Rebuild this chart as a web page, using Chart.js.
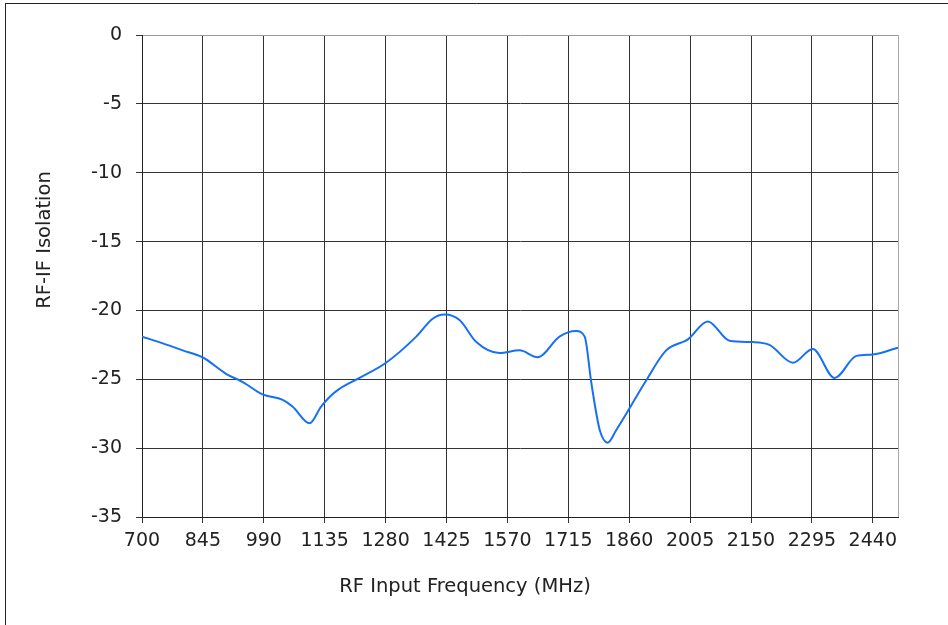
<!DOCTYPE html>
<html>
<head>
<meta charset="utf-8">
<script src="https://cdn.jsdelivr.net/npm/chart.js@4.4.0/dist/chart.umd.min.js"></script>
<style>
    html, body { margin: 0; padding: 0; background: #fff; }
    #wrap { position: absolute; left: 0; top: 0; width: 948px; height: 625px; }
</style>
</head>
<body>
<div id="wrap"><canvas id="isolationChart"></canvas></div>
<script>
const freqMHz = [700, 741, 797, 844, 900, 940, 987, 1035, 1059, 1099, 1126, 1146, 1170, 1218, 1281,
    1353, 1392, 1420, 1456, 1496, 1551, 1599, 1642, 1694, 1734, 1754, 1770, 1790, 1809, 1829, 1853,
    1900, 1948, 2000, 2047, 2099, 2154, 2194, 2250, 2297, 2349, 2401, 2440, 2500];
const isolationDb = [-21.9, -22.3, -22.9, -23.4, -24.6, -25.2, -26.1, -26.5, -27.0, -28.2, -27.0, -26.3, -25.7, -24.9, -23.8,
    -21.9, -20.6, -20.3, -20.7, -22.3, -23.1, -22.9, -23.4, -21.9, -21.5, -21.9, -25.3, -28.7, -29.6, -28.7, -27.5,
    -25.1, -22.9, -22.1, -20.8, -22.2, -22.3, -22.5, -23.8, -22.8, -24.9, -23.3, -23.2, -22.7];
const xTicks = [700, 845, 990, 1135, 1280, 1425, 1570, 1715, 1860, 2005, 2150, 2295, 2440];
const yTicks = [0, -5, -10, -15, -20, -25, -30, -35];

const fontFamily = 'Verdana, "DejaVu Sans", sans-serif';

// axis titles and the frame lines
const decorations = {
    id: 'decorations',
    afterDraw(chart) {
        const ctx = chart.ctx;
        ctx.save();
        ctx.strokeStyle = '#222';
        ctx.lineWidth = 1;
        ctx.beginPath();
        ctx.moveTo(5, 3.5);
        ctx.lineTo(948, 3.5);
        ctx.moveTo(5.5, 3);
        ctx.lineTo(5.5, 625);
        ctx.stroke();

        ctx.fillStyle = '#222';
        ctx.font = '19.5px ' + fontFamily;
        ctx.textAlign = 'center';
        ctx.textBaseline = 'middle';
        ctx.fillText('RF Input Frequency (MHz)', 465, 587);
        ctx.translate(44.5, 240);
        ctx.rotate(-Math.PI / 2);
        ctx.fillText('RF-IF Isolation', 0, 0);
        ctx.restore();
    }
};

document.addEventListener('DOMContentLoaded', () => {
    const ctx = document.getElementById('isolationChart').getContext('2d');
    new Chart(ctx, {
        type: 'line',
        data: {
            datasets: [{
                data: freqMHz.map((f, i) => ({ x: f, y: isolationDb[i] })),
                borderColor: '#1670f5',
                borderWidth: 2,
                pointRadius: 0,
                fill: false,
                cubicInterpolationMode: 'monotone'
            }]
        },
        options: {
            responsive: true,
            maintainAspectRatio: false,
            animation: false,
            layout: { padding: { left: 0, top: 35, right: 50, bottom: 0 } },
            plugins: {
                legend: { display: false },
                tooltip: { enabled: false }
            },
            scales: {
                x: {
                    type: 'linear',
                    min: 700,
                    max: 2500,
                    afterBuildTicks: axis => {
                        axis.ticks = xTicks.concat([2500]).map(v => ({ value: v }));
                    },
                    afterFit: axis => { axis.height = 108; },
                    ticks: {
                        autoSkip: false,
                        maxRotation: 0,
                        padding: 7,
                        color: '#222',
                        font: { family: fontFamily, size: 19 },
                        callback: v => (xTicks.includes(v) ? String(v) : '')
                    },
                    grid: {
                        color: c => (c.tick && c.tick.value === 2500 ? '#aaa' : '#333'),
                        tickColor: c => (c.tick && c.tick.value === 2500 ? 'rgba(0,0,0,0)' : '#333'),
                        tickLength: 6,
                        lineWidth: 1
                    },
                    border: { color: '#222', width: 1 }
                },
                y: {
                    min: -35,
                    max: 0,
                    afterBuildTicks: axis => {
                        axis.ticks = yTicks.map(v => ({ value: v }));
                    },
                    afterFit: axis => { axis.width = 142; },
                    ticks: {
                        padding: 14,
                        color: '#222',
                        font: { family: fontFamily, size: 19 }
                    },
                    grid: {
                        color: c => (c.tick && c.tick.value === 0 ? '#999' : '#333'),
                        tickColor: '#333',
                        tickLength: 6,
                        lineWidth: 1
                    },
                    border: { color: '#222', width: 1 }
                }
            }
        },
        plugins: [decorations]
    });
});
</script>
</body>
</html>
